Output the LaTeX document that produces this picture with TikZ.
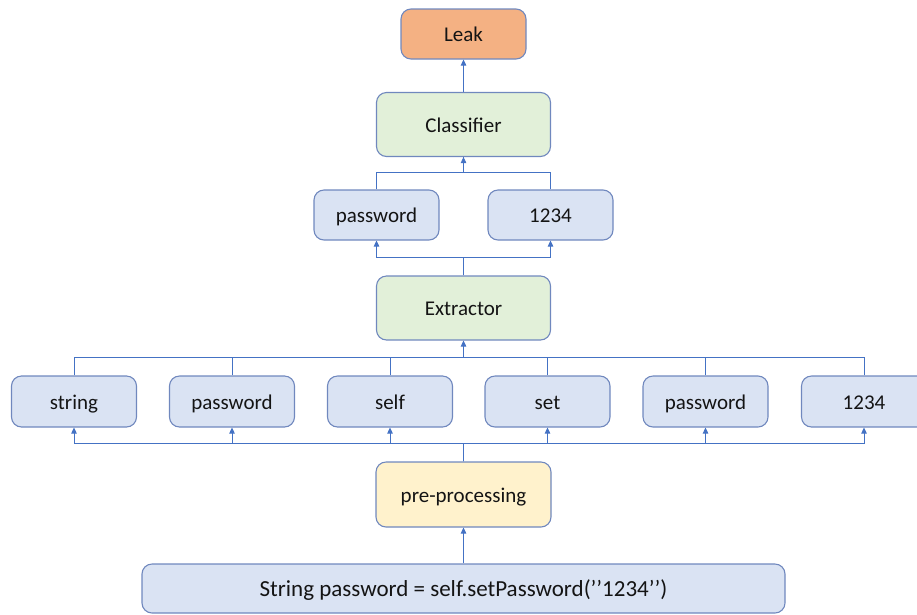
\documentclass[tikz,border=0pt]{standalone}
\usepackage{fontspec}
\setmainfont{Carlito}
\usetikzlibrary{arrows.meta}
\definecolor{edgeblue}{RGB}{68,114,196}
\definecolor{boxline}{RGB}{112,136,190}
\definecolor{tokfill}{RGB}{218,227,243}
\definecolor{grnfill}{RGB}{226,240,217}
\definecolor{orgfill}{RGB}{244,177,131}
\definecolor{ylwfill}{RGB}{255,242,204}
\definecolor{txt}{RGB}{20,20,20}
\tikzset{
  box/.style={draw=boxline, line width=1.1pt, rounded corners=10pt, align=center,
    inner sep=0pt, text=txt, text height=15pt, text depth=0pt,
    font=\fontsize{21}{25}\selectfont},
  token/.style={box, fill=tokfill, minimum width=125pt, minimum height=50pt},
  stage/.style={box, fill=grnfill, minimum width=174pt, minimum height=64pt},
  conn/.style={draw=edgeblue, line width=0.9pt},
  arr/.style={conn, -{Triangle[length=6pt,width=5.5pt]}}
}
\begin{document}
\begin{tikzpicture}[x=1pt,y=-1pt]
\useasboundingbox (0,0) rectangle (917,614);
\clip (0,0) rectangle (917,614);

% boxes
\node[box, fill=orgfill, minimum width=125pt, minimum height=50pt] (leak) at (463.5,34) {Leak};
\node[stage] (cls) at (463.5,124.5) {Classifier};
\node[token] (m1) at (376.5,215) {password};
\node[token] (m2) at (550.5,215) {1234};
\node[stage] (ext) at (463.5,308) {Extractor};
\node[token, minimum height=51pt] (t1) at (74,401.5) {string};
\node[token, minimum height=51pt] (t2) at (232,401.5) {password};
\node[token, minimum height=51pt] (t3) at (390,401.5) {self};
\node[token, minimum height=51pt] (t4) at (547.5,401.5) {set};
\node[token, minimum height=51pt] (t5) at (705.5,401.5) {password};
\node[token, minimum height=51pt] (t6) at (864,401.5) {1234};
\node[stage, fill=ylwfill, minimum width=175pt, minimum height=65pt] (pre) at (463.5,494.5) {pre-processing};
\node[box, fill=tokfill, minimum width=643pt, minimum height=49pt,
  font=\fontsize{23}{27}\selectfont, text height=16pt] (src) at (463.5,588.5)
  {String password = self.setPassword(’’1234’’)};

% source -> pre-processing
\draw[arr] (src.north) -- (pre.north |- src.north) -- (pre.south);

% pre-processing fans out to the tokens
\foreach \t in {t1,t2,t3,t4,t5,t6}
  \draw[arr] (pre.north) -- ++(0,-18) -| (\t.south);

% tokens merge into the extractor
\foreach \t in {t1,t2,t3,t4,t5,t6}
  \draw[conn] (\t.north) -- ++(0,-18) -| (ext.south);
\draw[arr] (ext.south |- t1.north) ++(0,-18) -- (ext.south);

% extractor fans out to the features
\foreach \t in {m1,m2}
  \draw[arr] (ext.north) -- ++(0,-18) -| (\t.south);

% features merge into the classifier
\foreach \t in {m1,m2}
  \draw[conn] (\t.north) -- ++(0,-17) -| (cls.south);
\draw[arr] (cls.south |- m1.north) ++(0,-17) -- (cls.south);

% classifier -> leak
\draw[arr] (cls.north) -- (leak.south);
\end{tikzpicture}
\end{document}
